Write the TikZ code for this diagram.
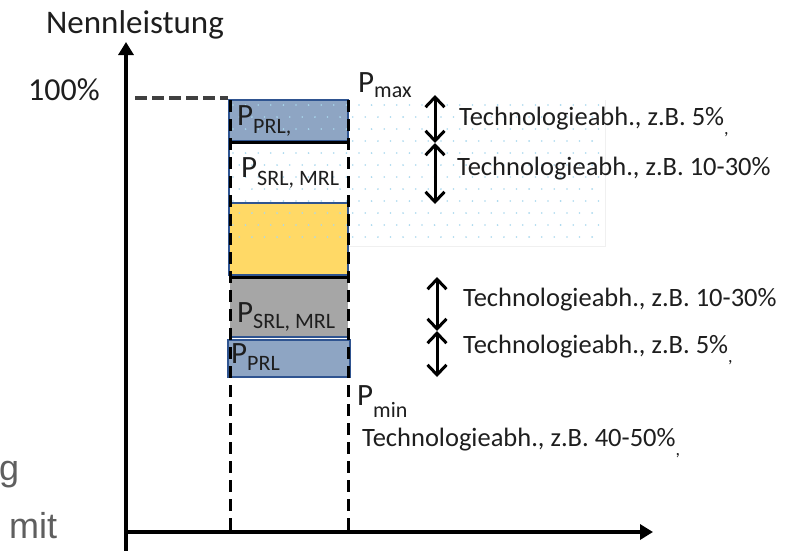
\documentclass[tikz,border=0pt]{standalone}
\usepackage{fontspec}
\setmainfont{Carlito}
\newfontfamily\arialfont{Liberation Sans}
\usetikzlibrary{arrows.meta}
\definecolor{prlfill}{HTML}{8EA5C3}
\definecolor{edgeblue}{HTML}{2F5490}
\definecolor{yelfill}{HTML}{FFD966}
\definecolor{greyfill}{HTML}{A6A6A6}
\definecolor{dotcol}{HTML}{A8D8EE}
\definecolor{txt}{HTML}{1E1E1E}
\definecolor{leftgrey}{HTML}{5F5F5F}
\newcommand{\fs}[1]{\fontsize{#1pt}{#1pt}\selectfont}
\newcommand{\lowsub}[2]{\raisebox{-#1pt}{\fs{22}#2}}
\tikzset{
  axisline/.style={line width=4pt,-{Triangle[length=13pt,width=15pt]}},
  blackdash/.style={line width=3pt,dash pattern=on 12pt off 7pt,black},
  greydash/.style={line width=4pt,dash pattern=on 12pt off 5pt,black!75},
  bbox/.style={rectangle,inner sep=0pt,outer sep=0pt,line width=2pt},
  dblarrow/.style={line width=3pt,{Straight Barb[length=10pt,width=19pt]}-{Straight Barb[length=10pt,width=19pt]}},
  techtext/.style={anchor=base west,inner sep=0pt,text=txt,font=\fs{26.5}},
  plabel/.style={anchor=base west,inner sep=0pt,text=txt,font=\fs{31}},
}
\begin{document}
\begin{tikzpicture}[x=1pt,y=-1pt]
\useasboundingbox[fill=white] (0,0) rectangle (810,550);
% box fills
\node[bbox,fill=prlfill,minimum width=119pt,minimum height=41pt] (prltop) at (288.5,120.5) {};
\node[bbox,fill=white,minimum width=119pt,minimum height=61pt] (srltop) at (288.5,172.5) {};
\node[bbox,fill=yelfill,minimum width=119pt,minimum height=72pt] (yel) at (288.5,239) {};
\node[bbox,fill=greyfill,minimum width=118pt,minimum height=60pt] (srlbot) at (289,307) {};
\node[bbox,fill=prlfill,minimum width=122pt,minimum height=37pt] (prlbot) at (289,358.5) {};
% dotted area
\foreach \j in {0,...,11}{
  \foreach \i in {0,...,29}{
    \pgfmathsetmacro{\xx}{233+12.6*\i+6.3*mod(\j,2)}
    \pgfmathsetmacro{\yy}{105+12*\j}
    \pgfmathparse{\xx<604 ? 1 : 0}
    \ifnum\pgfmathresult=1
      \fill[dotcol] (\xx,\yy) circle (0.9pt);
    \fi
  }
}
\draw[black!6,line width=0.6pt] (605,100) -- (605,246) -- (348,246);
% box borders
\draw[edgeblue,line width=2.2pt] (prltop.south west) rectangle (prltop.north east);
\draw[edgeblue,line width=2pt] (yel.south west) rectangle (yel.north east);
\draw[edgeblue,line width=2pt] (prlbot.south west) rectangle (prlbot.north east);
\draw[edgeblue,line width=1.8pt] (srltop.north west) -- (srltop.south west);
\draw[edgeblue,line width=2pt] (srlbot.south west) -- (srlbot.south east);
% black dashed verticals
\coordinate (dl1) at (230,100); \coordinate (dl2) at (230,531);
\coordinate (dr1) at (348,100); \coordinate (dr2) at (348,531);
\draw[blackdash] (dl1) -- (dl2);
\draw[blackdash] (dr1) -- (dr2);
\draw[black,line width=3pt] (229,142.5) -- (349,142.5);
\draw[black,line width=3pt] (229,277) -- (349,277);
% axes
\coordinate (o) at (126,532);
\coordinate (ybot) at (126,552);
\coordinate (ytop) at (126,42);
\coordinate (xend) at (653,532);
\draw[axisline] (ybot) -- (ytop);
\draw[line width=4pt,-{Triangle[length=13pt,width=15pt]}] (124,532) -- (xend);
% 100% dashed line
\coordinate (h1) at (135,98); \coordinate (h2) at (228,98);
\draw[greydash] (h1) -- (h2);
% axis labels
\node[anchor=base,inner sep=0pt,text=txt,font=\fs{33}] (nenn) at (135,33) {Nennleistung};
\node[anchor=base west,inner sep=0pt,text=txt,font=\fs{32}] (hundert) at (28,100) {100\%};
% P labels
\node[plabel] (pprl1) at (237,125) {P\lowsub{8}{PRL,}};
\node[plabel] (psrl1) at (241,177) {P\lowsub{8}{SRL, MRL}};
\node[plabel] (psrl2) at (237,322) {P\lowsub{6}{SRL, MRL}};
\node[plabel] (pprl2) at (231,363) {P\lowsub{7}{PRL}};
\node[plabel] (pmax) at (358,92) {P\lowsub{5}{max}};
\node[plabel] (pmin) at (357,405) {P\lowsub{12}{min}};
% double arrows
\coordinate (a1t) at (435,95); \coordinate (a1b) at (435,143);
\coordinate (a2t) at (435,143); \coordinate (a2b) at (435,204);
\coordinate (a3t) at (437,277); \coordinate (a3b) at (437,331);
\coordinate (a4t) at (437,331); \coordinate (a4b) at (437,377);
\draw[dblarrow] (a1t) -- (a1b);
\draw[dblarrow] (a2t) -- (a2b);
\draw[dblarrow] (a3t) -- (a3b);
\draw[dblarrow] (a4t) -- (a4b);
% technology texts
\node[techtext] (t1) at (459,125) {Technologieabh., z.B. 5\%\raisebox{-9pt}{\fs{18},}};
\node[techtext] (t2) at (457,175) {Technologieabh., z.B. 10-30\%};
\node[techtext] (t3) at (463,306) {Technologieabh., z.B. 10-30\%};
\node[techtext] (t4) at (463,353) {Technologieabh., z.B. 5\%\raisebox{-9pt}{\fs{18},}};
\node[techtext] (t5) at (362,446) {Technologieabh., z.B. 40-50\%\raisebox{-9pt}{\fs{18},}};
% grey text fragments at left edge
\node[anchor=base west,inner sep=0pt,text=leftgrey,font=\arialfont\fs{36}] (lg) at (-1,480) {g};
\node[anchor=base west,inner sep=0pt,text=leftgrey,font=\arialfont\fs{36}] (lmit) at (9,538) {mit};
\end{tikzpicture}
\end{document}
